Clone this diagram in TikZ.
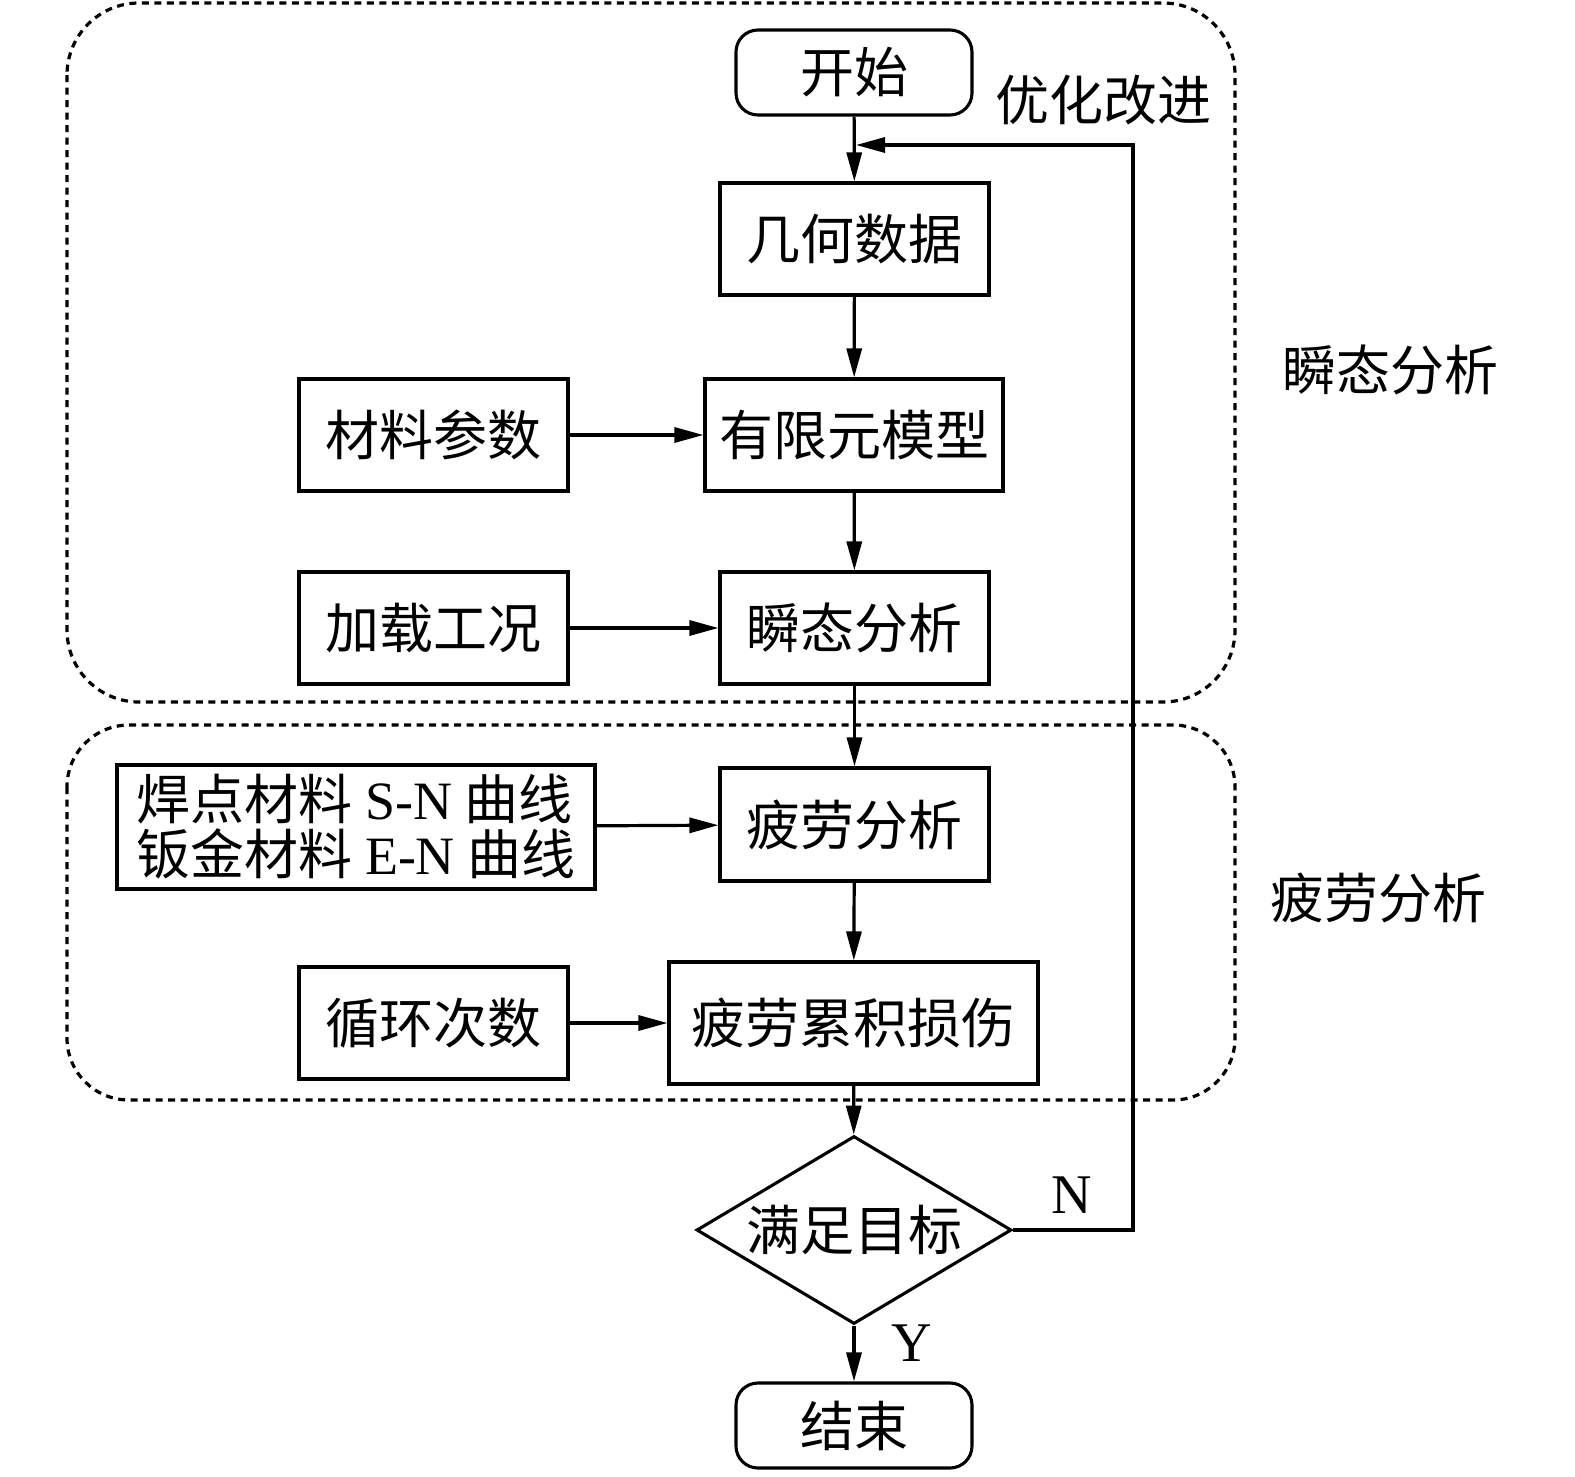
\documentclass[tikz,border=0pt]{standalone}
\usepackage{fontspec}
\setmainfont{Noto Sans CJK SC}
\newfontfamily\lat{Liberation Serif}
\usetikzlibrary{shapes.geometric,arrows.meta}
\begin{document}
\begin{tikzpicture}[x=1pt,y=-1pt,
  every node/.style={font=\fontsize{54}{55}\selectfont},
  box/.style={draw,line width=3.1pt,inner sep=0pt,rectangle},
  term/.style={box,rounded corners=22pt,minimum width=236pt,minimum height=85pt},
  arr/.style={line width=3.2pt,-{Triangle[length=29pt,width=15pt]}},
  region/.style={line width=3.2pt,dash pattern=on 7pt off 5.5pt},
  lbl/.style={inner sep=0pt}
]
\useasboundingbox (0,0) rectangle (1575,1476);
% dashed regions
\draw[region,rounded corners=72pt] (67,3) rectangle (1235,702);
\draw[region,rounded corners=62pt] (67,725) rectangle (1235,1100);
% nodes
\node[term] (start) at (854,72.5) {开始};
\node[box,minimum width=269pt,minimum height=112pt] (geo) at (854.5,239) {几何数据};
\node[box,minimum width=298pt,minimum height=112pt] (fem) at (854,435) {有限元模型};
\node[box,minimum width=269pt,minimum height=112pt] (mat) at (433.5,435) {材料参数};
\node[box,minimum width=269pt,minimum height=112pt] (load) at (433.5,628) {加载工况};
\node[box,minimum width=269pt,minimum height=112pt] (trans) at (854.5,628) {瞬态分析};
\node[box,minimum width=269pt,minimum height=113pt] (fat) at (854.5,824.5) {疲劳分析};
\node[box,minimum width=478pt,minimum height=124pt,align=left] (sn) at (356,827) {焊点材料 {\lat S-N} 曲线\\钣金材料 {\lat E-N} 曲线};
\node[box,minimum width=269pt,minimum height=112pt] (cyc) at (433.5,1023) {循环次数};
\node[box,minimum width=369pt,minimum height=122pt] (dmg) at (853.5,1023) {疲劳累积损伤};
\node[draw,line width=3.1pt,shape=diamond,aspect=1.675,inner sep=0pt,minimum width=315pt,minimum height=188pt] (dia) at (854,1230) {满足目标};
\node[term] (end) at (854,1425.5) {结束};
% labels
\node[lbl] (opt) at (1103,100) {优化改进};
\node[lbl] (lab1) at (1390,370) {瞬态分析};
\node[lbl] (lab2) at (1378,898) {疲劳分析};
\node[lbl,font=\lat\fontsize{56}{56}\selectfont] (nl) at (1072,1195) {N};
\node[lbl,font=\lat\fontsize{56}{56}\selectfont] (yl) at (912,1343) {Y};
% connectors
\draw[arr] (start) -- (geo);
\draw[arr] (geo) -- (fem);
\draw[arr] (fem) -- (trans);
\draw[arr] (trans) -- (fat);
\draw[arr] (fat) -- (dmg);
\draw[arr] (dmg) -- (dia);
\draw[arr] (dia) -- (end);
\draw[arr] (mat) -- (fem);
\draw[arr] (load) -- (trans);
\draw[arr] (sn) -- (fat);
\draw[arr] (cyc) -- (dmg);
\coordinate (fbr) at (1133,145);
\coordinate (fbj) at (856,145);
\draw[arr] (dia.east) -| (fbr) -- (fbj);
\end{tikzpicture}
\end{document}
